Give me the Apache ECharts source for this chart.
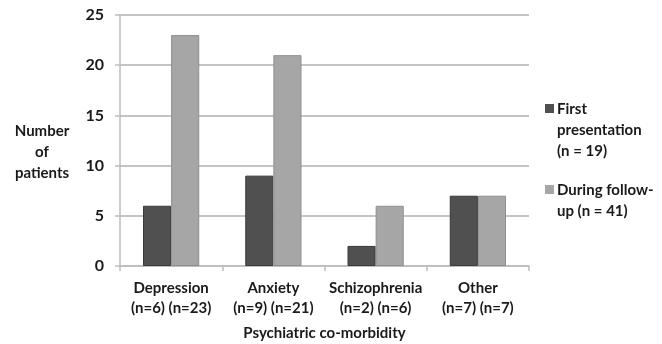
<!DOCTYPE html>
<html><head><meta charset="utf-8">
<script src="https://cdn.jsdelivr.net/npm/echarts@6/dist/echarts.min.js"></script>
<style>html,body{margin:0;padding:0;background:#fff}#c{width:662px;height:344px}</style>
</head><body><div id="c"></div>
<script>
const categories = ['Depression\n(n=6) (n=23)', 'Anxiety\n(n=9) (n=21)', 'Schizophrenia\n(n=2) (n=6)', 'Other\n(n=7) (n=7)'];
const firstPresentation = [6, 9, 2, 7];
const duringFollowUp = [23, 21, 6, 7];
const seriesNames = ['First presentation (n = 19)', 'During follow-up (n = 41)'];
const legendLabels = ['First\npresentation\n(n = 19)', 'During follow-\nup (n = 41)'];

const FONT = 'Lato';
const TXT = '#1a1a1a';
const DARK = '#505050', LIGHT = '#a6a6a6';
const chart = echarts.init(document.getElementById('c'), null, {renderer: 'canvas'});
chart.setOption({
  animation: false,
  grid: {left: 120, right: 133, top: 15, bottom: 78, containLabel: false, outerBoundsMode: 'none'},
  xAxis: {
    type: 'category', data: categories,
    axisLine: {lineStyle: {color: '#bdbdbd', width: 1.5}},
    axisTick: {show: true, length: 5, lineStyle: {color: '#bdbdbd', width: 1.5}},
    axisLabel: {interval: 0, color: TXT, fontFamily: FONT, fontSize: 15, fontWeight: 'bold', lineHeight: 20, margin: 12},
    name: 'Psychiatric co-morbidity', nameLocation: 'middle', nameGap: 60,
    nameTextStyle: {color: TXT, fontFamily: FONT, fontSize: 15, fontWeight: 'bold'}
  },
  yAxis: {
    type: 'value', min: 0, max: 25, interval: 5,
    axisLine: {show: true, lineStyle: {color: '#bdbdbd', width: 1.5}},
    axisTick: {show: true, length: 5, lineStyle: {color: '#bdbdbd', width: 1.5}},
    splitLine: {lineStyle: {color: '#c4c4c4', width: 2}},
    axisLabel: {color: TXT, fontFamily: FONT, fontSize: 16, fontWeight: 'bold', margin: 16}
  },
  series: [
    {name: seriesNames[0], type: 'bar', data: firstPresentation, barGap: '0%', barCategoryGap: '45%',
     itemStyle: {color: DARK, borderColor: '#3a3a3a', borderWidth: 1}},
    {name: seriesNames[1], type: 'bar', data: duringFollowUp,
     itemStyle: {color: LIGHT, borderColor: '#8e8e8e', borderWidth: 1}}
  ],
  graphic: [
    {type: 'text', x: 42, y: 121, style: {text: 'Number\nof\npatients', fill: TXT, font: 'bold 15px ' + FONT, lineHeight: 21, align: 'center'}},
    {type: 'rect', shape: {x: 545, y: 104, width: 9, height: 9}, style: {fill: DARK}},
    {type: 'text', x: 557, y: 99, style: {text: legendLabels[0], fill: TXT, font: 'bold 15px ' + FONT, lineHeight: 21}},
    {type: 'rect', shape: {x: 545, y: 185, width: 9, height: 9}, style: {fill: LIGHT}},
    {type: 'text', x: 557, y: 180, style: {text: legendLabels[1], fill: TXT, font: 'bold 15px ' + FONT, lineHeight: 21}}
  ]
});
</script></body></html>
